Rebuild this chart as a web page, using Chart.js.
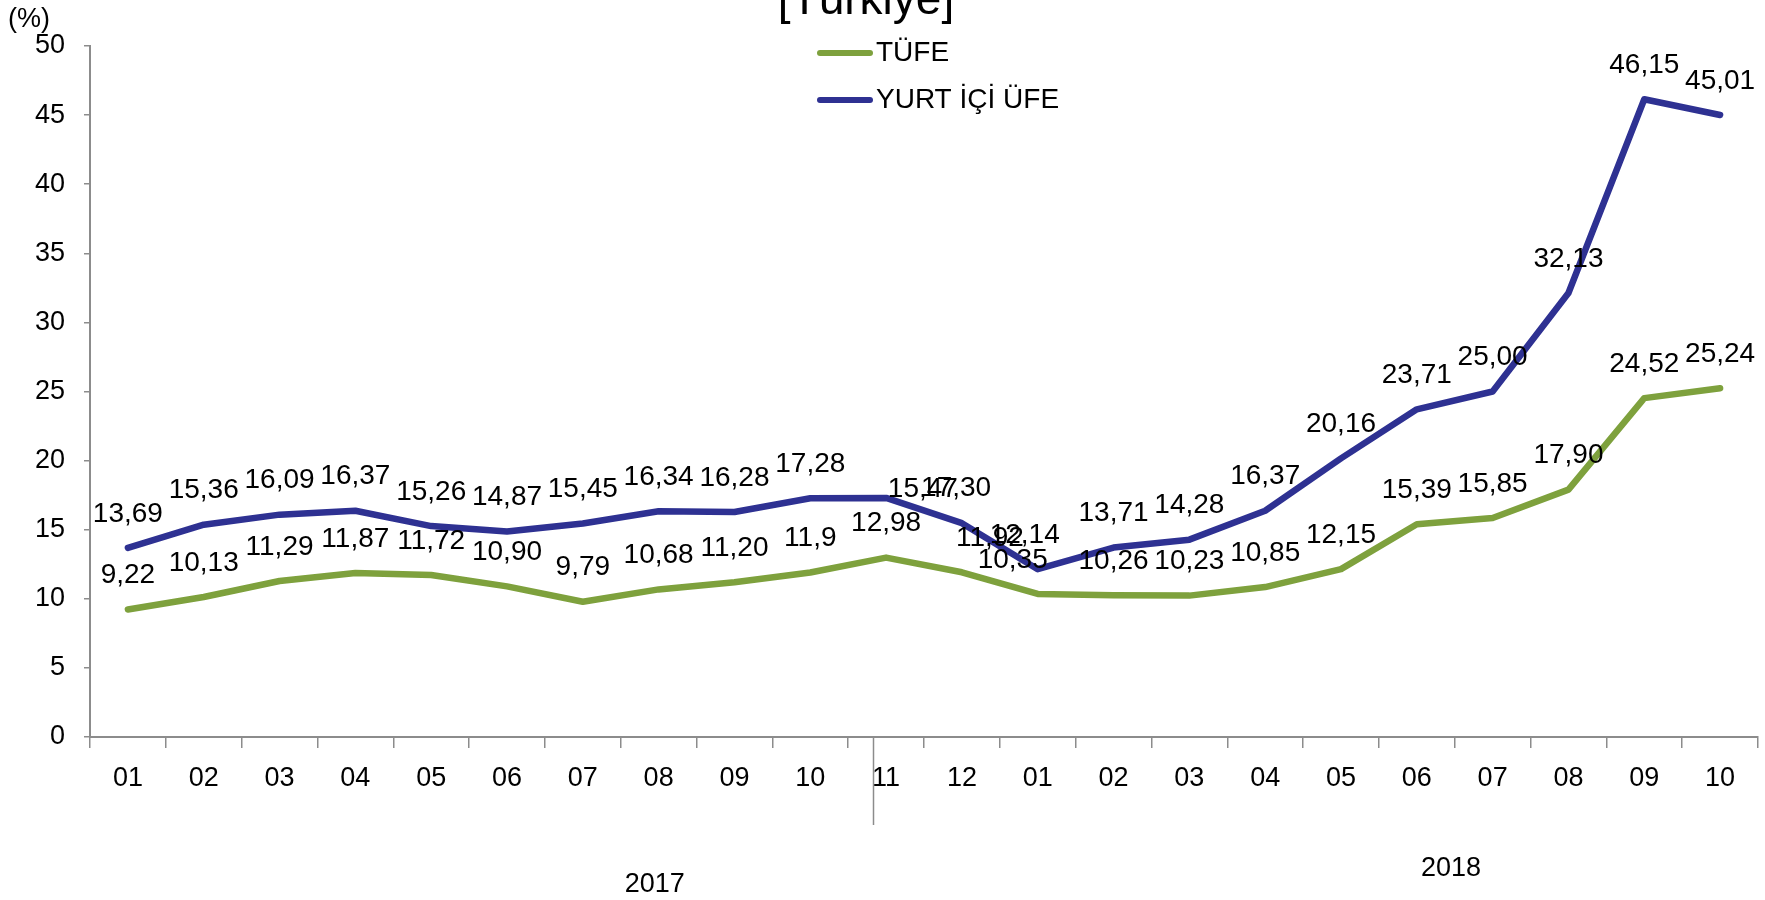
<!DOCTYPE html>
<html>
<head>
<meta charset="utf-8">
<script src="https://cdn.jsdelivr.net/npm/chart.js@4.4.0/dist/chart.umd.min.js"></script>
<style>
html, body { margin: 0; padding: 0; background: #fff; }
#wrap { width: 1765px; height: 900px; }
</style>
</head>
<body>
<div id="wrap"><canvas id="chart" width="1765" height="900"></canvas></div>
<script>
// Monthly annual change (%), 2017-01 .. 2018-10
const months = ['01', '02', '03', '04', '05', '06', '07', '08', '09', '10', '11', '12',
                '01', '02', '03', '04', '05', '06', '07', '08', '09', '10'];
const tufe = [9.22, 10.13, 11.29, 11.87, 11.72, 10.90, 9.79, 10.68, 11.20, 11.9, 12.98, 11.92,
              10.35, 10.26, 10.23, 10.85, 12.15, 15.39, 15.85, 17.90, 24.52, 25.24];
const ufe = [13.69, 15.36, 16.09, 16.37, 15.26, 14.87, 15.45, 16.34, 16.28, 17.28, 17.30, 15.47,
             12.14, 13.71, 14.28, 16.37, 20.16, 23.71, 25.00, 32.13, 46.15, 45.01];
const tufeText = ['9,22', '10,13', '11,29', '11,87', '11,72', '10,90', '9,79', '10,68', '11,20', '11,9', '12,98', '11,92',
                  '10,35', '10,26', '10,23', '10,85', '12,15', '15,39', '15,85', '17,90', '24,52', '25,24'];
const ufeText = ['13,69', '15,36', '16,09', '16,37', '15,26', '14,87', '15,45', '16,34', '16,28', '17,28', '17,30', '15,47',
                 '12,14', '13,71', '14,28', '16,37', '20,16', '23,71', '25,00', '32,13', '46,15', '45,01'];
const years = ['2017', '2018'];
const seriesNames = ['TÜFE', 'YURT İÇİ ÜFE'];

const GREEN = '#7ea13d';
const BLUE = '#2e3192';
const AXIS = '#8c8c8c';
const FONT = "'Liberation Sans', Arial, sans-serif";

// Excel moved a few labels off their default spot
const labelNudge = {
    '1-10': { dx: 70, dy: 24 },
    '1-11': { dx: -39, dy: 0 },
    '1-12': { dx: -13, dy: 0 },
    '0-11': { dx: 28, dy: 0 },
    '0-12': { dx: -25, dy: 0 }
};

const valueLabels = {
    id: 'valueLabels',
    afterDatasetsDraw(chart) {
        const ctx = chart.ctx;
        const texts = [tufeText, ufeText];
        ctx.save();
        ctx.font = '28px ' + FONT;
        ctx.fillStyle = '#000';
        ctx.textAlign = 'center';
        ctx.textBaseline = 'middle';
        chart.data.datasets.forEach((ds, di) => {
            chart.getDatasetMeta(di).data.forEach((pt, i) => {
                const n = labelNudge[di + '-' + i] || { dx: 0, dy: 0 };
                ctx.fillText(texts[di][i], pt.x + n.dx, pt.y - 34 + n.dy);
            });
        });
        ctx.restore();
    }
};

const decorations = {
    id: 'decorations',
    afterDraw(chart) {
        const ctx = chart.ctx;
        const x = chart.scales.x;
        const area = chart.chartArea;
        ctx.save();

        // cut-off title
        ctx.fillStyle = '#000';
        ctx.font = '46px ' + FONT;
        ctx.textAlign = 'center';
        ctx.textBaseline = 'alphabetic';
        ctx.fillText('[Türkiye]', 866, 14);

        // unit
        ctx.font = '27px ' + FONT;
        ctx.textAlign = 'left';
        ctx.textBaseline = 'middle';
        ctx.fillText('(%)', 8, 20);

        // legend
        const colors = [GREEN, BLUE];
        const legendY = [53, 100];
        ctx.lineCap = 'round';
        ctx.lineWidth = 6;
        ctx.font = '28px ' + FONT;
        seriesNames.forEach((name, i) => {
            ctx.strokeStyle = colors[i];
            ctx.beginPath();
            ctx.moveTo(820, legendY[i]);
            ctx.lineTo(870, legendY[i]);
            ctx.stroke();
            ctx.fillText(name, 876, legendY[i]);
        });

        // year separator
        const sepX = Math.round(x.getPixelForValue(9.5 + 1 / 3)) + 0.5;
        ctx.strokeStyle = AXIS;
        ctx.lineWidth = 1.5;
        ctx.lineCap = 'butt';
        ctx.beginPath();
        ctx.moveTo(sepX, area.bottom);
        ctx.lineTo(sepX, 825);
        ctx.stroke();

        // year labels
        ctx.textAlign = 'center';
        ctx.font = '27px ' + FONT;
        ctx.fillText(years[0], x.getPixelForValue(6.95), 885);
        ctx.fillText(years[1], x.getPixelForValue(17.45), 869);

        ctx.restore();
    }
};

new Chart(document.getElementById('chart').getContext('2d'), {
    type: 'line',
    data: {
        labels: months,
        datasets: [{
            label: seriesNames[0],
            data: tufe,
            borderColor: GREEN,
            borderWidth: 6.5,
            pointRadius: 0,
            tension: 0,
            fill: false
        }, {
            label: seriesNames[1],
            data: ufe,
            borderColor: BLUE,
            borderWidth: 6.5,
            pointRadius: 0,
            tension: 0,
            fill: false
        }]
    },
    options: {
        responsive: false,
        animation: false,
        devicePixelRatio: 1,
        layout: { padding: { top: 46, right: 7, left: 0, bottom: 0 } },
        plugins: {
            legend: { display: false },
            title: { display: false },
            tooltip: { enabled: false }
        },
        elements: { line: { borderJoinStyle: 'round', borderCapStyle: 'round' } },
        scales: {
            x: {
                offset: true,
                grid: { drawOnChartArea: false, tickLength: 11, color: AXIS, lineWidth: 1.5, offset: true },
                border: { color: AXIS, width: 2 },
                ticks: { color: '#000', font: { family: FONT, size: 27 }, padding: 14, maxRotation: 0, autoSkip: false },
                afterFit(scale) { scale.height = 163; }
            },
            y: {
                min: 0,
                max: 50,
                grid: { drawOnChartArea: false, tickLength: 6, color: AXIS, lineWidth: 1.5 },
                border: { color: AXIS, width: 2 },
                ticks: { stepSize: 5, color: '#000', font: { family: FONT, size: 27 }, padding: 19 },
                afterFit(scale) { scale.width = 90; }
            }
        }
    },
    plugins: [valueLabels, decorations]
});
</script>
</body>
</html>
